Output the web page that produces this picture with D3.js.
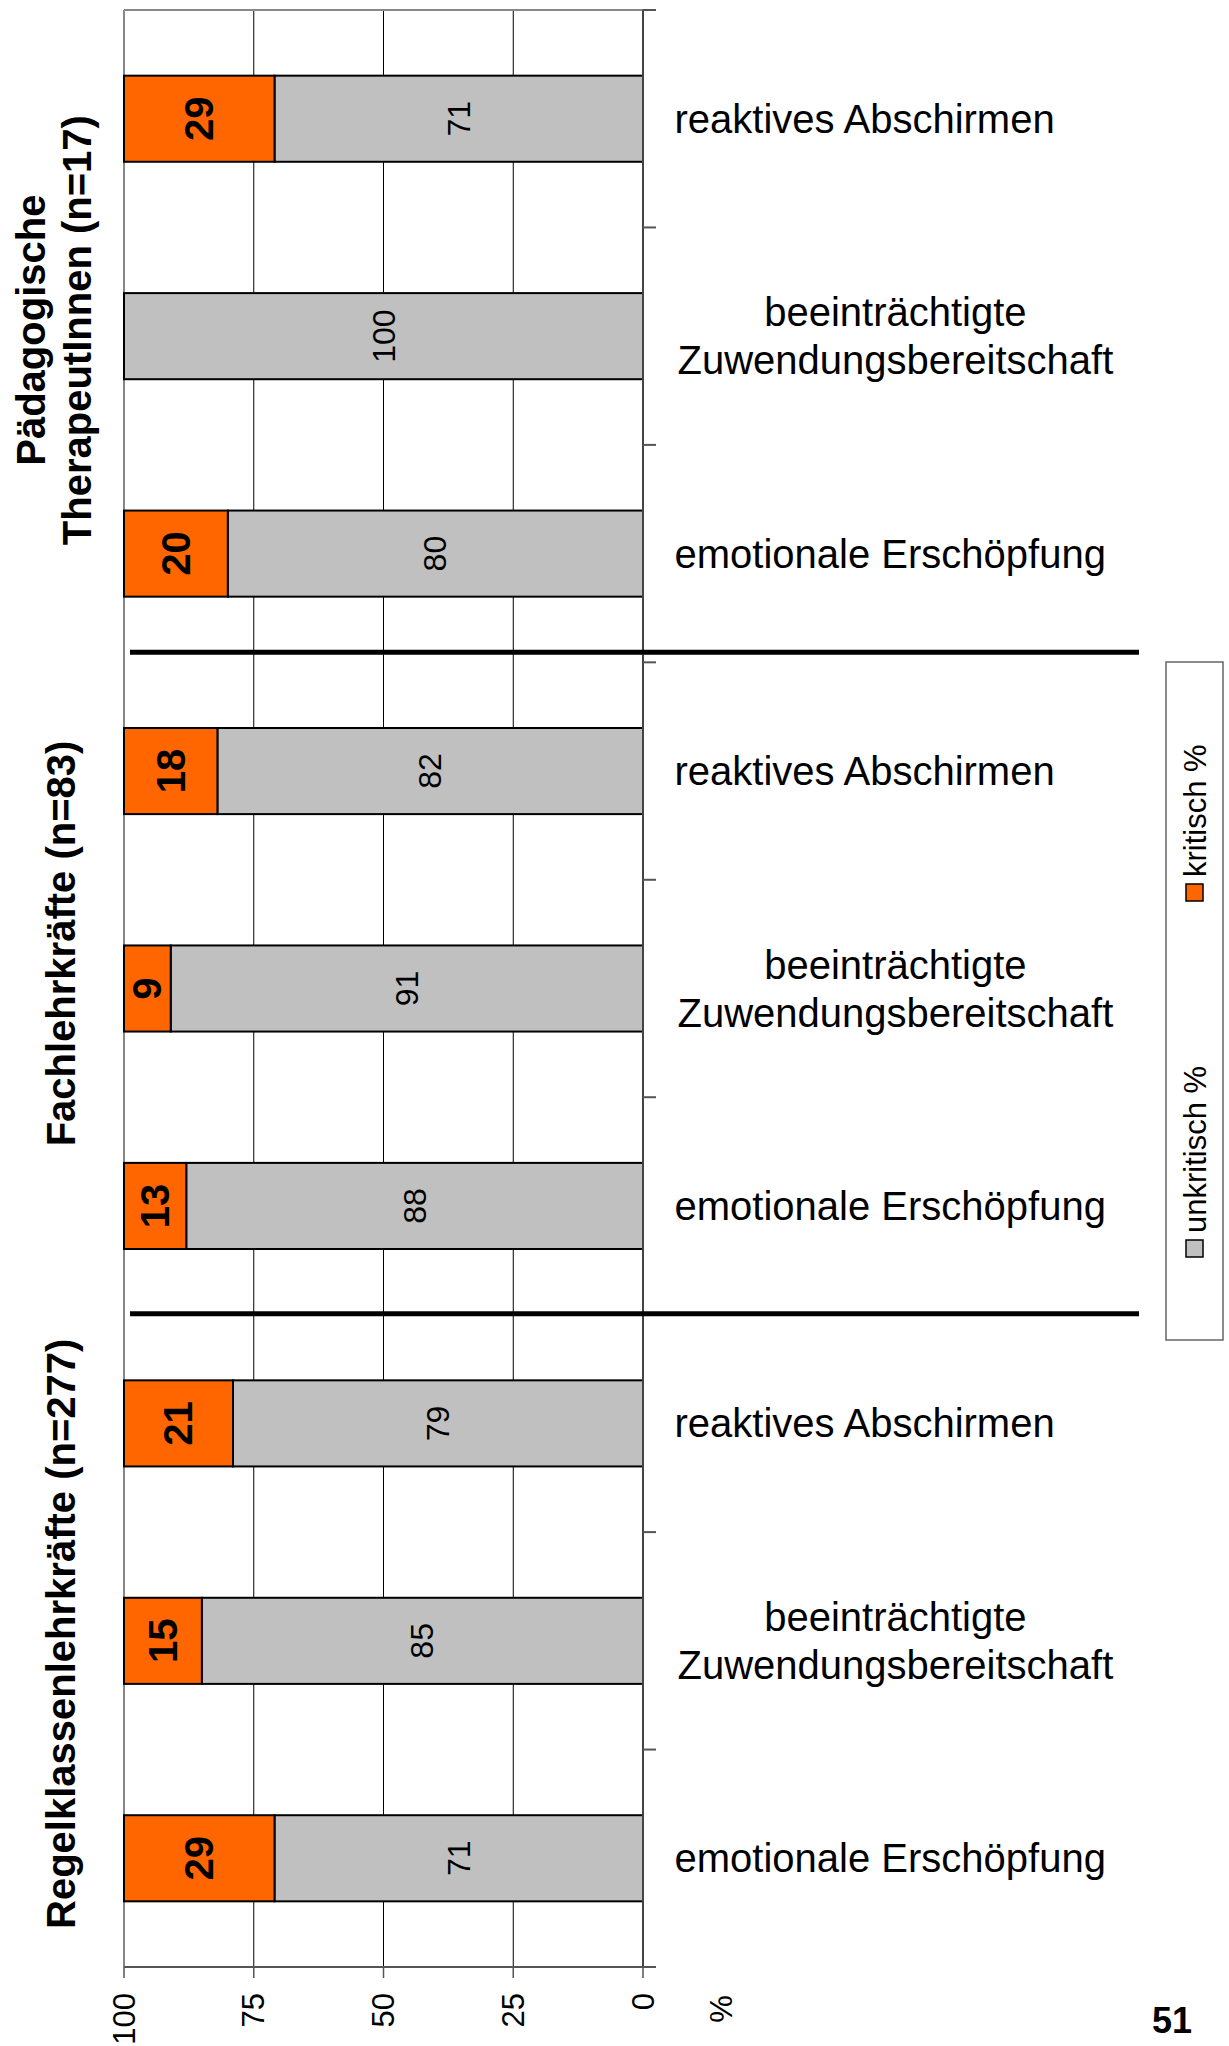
<!DOCTYPE html>
<html>
<head>
<meta charset="utf-8">
<script src="https://cdn.jsdelivr.net/npm/d3@7"></script>
<style>
  html, body { margin: 0; padding: 0; background: #fff; }
  svg { display: block; font-family: "Liberation Sans", Arial, sans-serif; }
</style>
</head>
<body>
<svg id="chart" width="1229" height="2046"></svg>
<script>
// ---- data ----
const categories = [
  ["reaktives Abschirmen"],
  ["beeinträchtigte", "Zuwendungsbereitschaft"],
  ["emotionale Erschöpfung"],
  ["reaktives Abschirmen"],
  ["beeinträchtigte", "Zuwendungsbereitschaft"],
  ["emotionale Erschöpfung"],
  ["reaktives Abschirmen"],
  ["beeinträchtigte", "Zuwendungsbereitschaft"],
  ["emotionale Erschöpfung"]
];
const kritisch   = [29, 0, 20, 18, 9, 13, 21, 15, 29];
const unkritisch = [71, 100, 80, 82, 91, 88, 79, 85, 71];
const groups = [
  ["Pädagogische", "TherapeutInnen (n=17)"],
  ["Fachlehrkräfte (n=83)"],
  ["Regelklassenlehrkräfte (n=277)"]
];
const groupSize = 3;
const xTicks = [100, 75, 50, 25, 0];
const seriesNames = ["unkritisch %", "kritisch %"];
const colors = { unkritisch: "#C0C0C0", kritisch: "#FF6600" };
const pageNumber = "51";

// ---- layout ----
const svg = d3.select("#chart");
const plot = { left: 124, right: 643, top: 10, bottom: 1967 };
const x = d3.scaleLinear().domain([0, 100]).range([plot.right, plot.left]).clamp(true);
const idx = d3.range(categories.length);
const y = d3.scaleBand().domain(idx).range([plot.top, plot.bottom]).padding(0);
const barH = y.step() * 0.396;
const barY = i => y(i) + (y.bandwidth() - barH) / 2;
const cy = i => y(i) + y.bandwidth() / 2;

// gridlines
svg.append("g").selectAll("line").data([75, 50, 25]).join("line")
  .attr("x1", d => x(d)).attr("x2", d => x(d))
  .attr("y1", plot.top).attr("y2", plot.bottom)
  .attr("stroke", "#000").attr("stroke-width", 1);

// plot border (top, left) gray
svg.append("line").attr("x1", plot.left).attr("x2", plot.right).attr("y1", plot.top).attr("y2", plot.top)
  .attr("stroke", "#888").attr("stroke-width", 2);
svg.append("line").attr("x1", plot.left).attr("x2", plot.left).attr("y1", plot.top).attr("y2", plot.bottom)
  .attr("stroke", "#888").attr("stroke-width", 2);

// bars
const bars = svg.append("g");
bars.selectAll("rect.unk").data(idx).join("rect").attr("class", "unk")
  .attr("x", i => x(unkritisch[i])).attr("width", i => x(0) - x(unkritisch[i]))
  .attr("y", barY).attr("height", barH)
  .attr("fill", colors.unkritisch).attr("stroke", "#000").attr("stroke-width", 2);
bars.selectAll("rect.krit").data(idx.filter(i => kritisch[i] > 0)).join("rect").attr("class", "krit")
  .attr("x", i => x(unkritisch[i] + kritisch[i])).attr("width", i => x(unkritisch[i]) - x(unkritisch[i] + kritisch[i]))
  .attr("y", barY).attr("height", barH)
  .attr("fill", colors.kritisch).attr("stroke", "#000").attr("stroke-width", 2);

// value labels
function rotText(sel, px, py) {
  return sel.attr("transform", `translate(${px},${py}) rotate(-90)`)
    .attr("text-anchor", "middle").attr("dominant-baseline", "central");
}
idx.forEach(i => {
  rotText(svg.append("text"), (x(0) + x(unkritisch[i])) / 2, cy(i))
    .attr("font-size", 32).attr("fill", "#000").text(unkritisch[i]);
  if (kritisch[i] > 0) {
    rotText(svg.append("text"), (x(unkritisch[i]) + x(unkritisch[i] + kritisch[i])) / 2, cy(i))
      .attr("font-size", 40).attr("font-weight", "bold").attr("fill", "#000").text(kritisch[i]);
  }
});

// right category axis
svg.append("line").attr("x1", plot.right).attr("x2", plot.right).attr("y1", plot.top).attr("y2", plot.bottom)
  .attr("stroke", "#444").attr("stroke-width", 2);
svg.append("g").selectAll("line").data(d3.range(categories.length + 1)).join("line")
  .attr("x1", plot.right).attr("x2", plot.right + 13)
  .attr("y1", k => plot.top + k * y.step()).attr("y2", k => plot.top + k * y.step())
  .attr("stroke", "#555").attr("stroke-width", 2);

// bottom value axis
svg.append("line").attr("x1", plot.left).attr("x2", plot.right + 13).attr("y1", plot.bottom).attr("y2", plot.bottom)
  .attr("stroke", "#555").attr("stroke-width", 2);
svg.append("g").selectAll("line").data(xTicks).join("line")
  .attr("x1", d => x(d)).attr("x2", d => x(d)).attr("y1", plot.bottom).attr("y2", plot.bottom + 11)
  .attr("stroke", "#555").attr("stroke-width", 1.5);
xTicks.forEach(d => {
  svg.append("text").attr("transform", `translate(${x(d)},${plot.bottom + 26}) rotate(-90)`)
    .attr("text-anchor", "end").attr("dominant-baseline", "central")
    .attr("font-size", 31).text(d);
});
svg.append("text").attr("transform", `translate(${plot.right + 78},${plot.bottom + 42}) rotate(-90)`)
  .attr("text-anchor", "middle").attr("dominant-baseline", "central")
  .attr("font-size", 31).text("%");

// category labels (block left-aligned, lines centered within block)
const labelLeft = 674.5;
const lineH = 48;
idx.forEach(i => {
  const lines = categories[i];
  const g = svg.append("g");
  const texts = lines.map((l, k) => g.append("text").attr("font-size", 40)
    .attr("y", cy(i) + (k - (lines.length - 1) / 2) * lineH)
    .attr("dominant-baseline", "central").text(l));
  const widths = texts.map(t => t.node().getComputedTextLength());
  const w = d3.max(widths);
  texts.forEach(t => t.attr("x", labelLeft + w / 2 + (lines.length > 1 ? 3 : 0)).attr("text-anchor", "middle"));
});

// group separators
const sepOffsets = [-10, -1];
[1, 2].forEach((gIdx, k) => {
  const yy = plot.top + gIdx * groupSize * y.step() + sepOffsets[k];
  svg.append("line").attr("x1", 130).attr("x2", 1139).attr("y1", yy).attr("y2", yy)
    .attr("stroke", "#000").attr("stroke-width", 5);
});

// group labels
const groupOffsets = [-6, -45, -7];
groups.forEach((lines, gi) => {
  const center = cy(gi * groupSize + 1) + groupOffsets[gi];
  lines.forEach((l, k) => {
    const cx = lines.length === 1 ? 61 : 31 + k * 46;
    rotText(svg.append("text"), cx, center)
      .attr("font-size", 40).attr("font-weight", "bold").text(l);
  });
});

// legend
const leg = { x: 1166, y: 662, w: 57, h: 678 };
svg.append("rect").attr("x", leg.x).attr("y", leg.y).attr("width", leg.w).attr("height", leg.h)
  .attr("fill", "#fff").attr("stroke", "#666").attr("stroke-width", 1.5);
const legItems = [
  { name: seriesNames[0], color: colors.unkritisch, sq: 1240 },
  { name: seriesNames[1], color: colors.kritisch, sq: 884 }
];
legItems.forEach(it => {
  svg.append("rect").attr("x", leg.x + 20).attr("y", it.sq).attr("width", 17).attr("height", 17)
    .attr("fill", it.color).attr("stroke", "#000").attr("stroke-width", 1.5);
  svg.append("text").attr("transform", `translate(${leg.x + leg.w / 2 + 1},${it.sq - 7}) rotate(-90)`)
    .attr("text-anchor", "start").attr("dominant-baseline", "central")
    .attr("font-size", 31).text(it.name);
});

// page number
svg.append("text").attr("x", 1172).attr("y", 2033).attr("text-anchor", "middle")
  .attr("font-size", 36).attr("font-weight", "bold").text(pageNumber);
</script>
</body>
</html>
